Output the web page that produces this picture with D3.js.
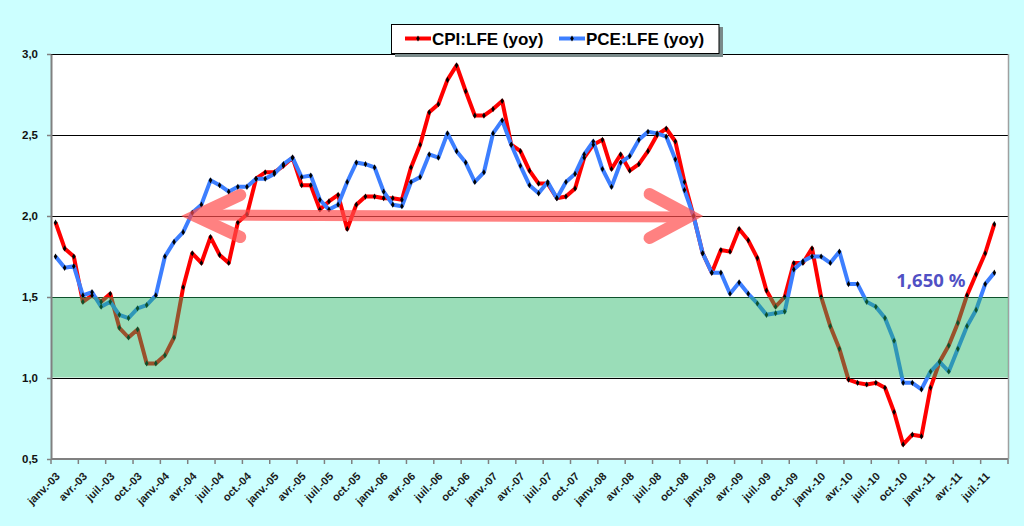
<!DOCTYPE html>
<html>
<head>
<meta charset="utf-8">
<script src="https://cdn.jsdelivr.net/npm/d3@7/dist/d3.min.js"></script>
<style>
  html, body { margin: 0; padding: 0; background: #ccffff; }
  svg { display: block; font-family: "Liberation Sans", Arial, sans-serif; }
</style>
</head>
<body>
<svg id="chart" width="1024" height="526"></svg>
<script>
// month labels (french), one category per month from janv.-03 to sept.-11
const monthNames = ['janv.', 'févr.', 'mars', 'avr.', 'mai', 'juin',
                    'juil.', 'août', 'sept.', 'oct.', 'nov.', 'déc.'];
const years = ['03', '04', '05', '06', '07', '08', '09', '10', '11'];
const categories = [];
years.forEach(yy => monthNames.forEach(m => categories.push(m + '-' + yy)));
categories.splice(105); // axis stops after sept.-11

// core CPI, yoy %
const cpi = [
  1.96, 1.80, 1.75, 1.47, 1.51, 1.47, 1.52, 1.31, 1.25, 1.30, 1.09, 1.09,
  1.14, 1.25, 1.56, 1.77, 1.71, 1.87, 1.76, 1.71, 1.96, 2.01, 2.23, 2.27,
  2.27, 2.31, 2.36, 2.19, 2.19, 2.04, 2.09, 2.13, 1.92, 2.07, 2.12, 2.12,
  2.11, 2.11, 2.10, 2.30, 2.44, 2.64, 2.69, 2.84, 2.93, 2.77, 2.62, 2.62,
  2.66, 2.71, 2.44, 2.40, 2.28, 2.20, 2.20, 2.11, 2.12, 2.17, 2.36, 2.44,
  2.47, 2.29, 2.38, 2.28, 2.32, 2.40, 2.50, 2.54, 2.46, 2.21, 2.00, 1.77,
  1.65, 1.79, 1.78, 1.92, 1.85, 1.74, 1.54, 1.44, 1.50, 1.71, 1.71, 1.80,
  1.50, 1.32, 1.18, 0.99, 0.97, 0.96, 0.97, 0.94, 0.79, 0.59, 0.65, 0.64,
  0.94, 1.10, 1.20, 1.34, 1.51, 1.64, 1.77, 1.95
];

// core PCE, yoy %
const pce = [
  1.75, 1.68, 1.69, 1.51, 1.53, 1.44, 1.47, 1.39, 1.37, 1.43, 1.45, 1.51,
  1.75, 1.84, 1.90, 2.02, 2.07, 2.22, 2.19, 2.15, 2.18, 2.18, 2.23, 2.23,
  2.26, 2.32, 2.36, 2.24, 2.25, 2.10, 2.04, 2.07, 2.21, 2.33, 2.32, 2.30,
  2.15, 2.07, 2.06, 2.21, 2.24, 2.38, 2.36, 2.51, 2.40, 2.33, 2.21, 2.27,
  2.51, 2.59, 2.44, 2.31, 2.19, 2.14, 2.21, 2.11, 2.21, 2.26, 2.38, 2.46,
  2.29, 2.18, 2.33, 2.37, 2.47, 2.52, 2.51, 2.49, 2.35, 2.16, 2.00, 1.77,
  1.65, 1.65, 1.52, 1.59, 1.52, 1.46, 1.39, 1.40, 1.41, 1.67, 1.72, 1.75,
  1.75, 1.71, 1.78, 1.58, 1.58, 1.47, 1.44, 1.37, 1.23, 0.97, 0.97, 0.93,
  1.04, 1.10, 1.04, 1.18, 1.32, 1.42, 1.58, 1.65
];

const yTicks = [0.5, 1.0, 1.5, 2.0, 2.5, 3.0];
const band = [1.0, 1.5];          // shaded target zone
const arrowSpan = [15, 70];       // category indexes joined by the arrow
const arrowLevel = 2.0;

const series = [
  { name: 'CPI:LFE (yoy)', values: cpi, color: '#ff0000' },
  { name: 'PCE:LFE (yoy)', values: pce, color: '#3d7fff' }
];

const frFormat = d3.formatLocale({ decimal: ',', thousands: ' ', grouping: [3], currency: ['', ' €'] });
const fmtTick = frFormat.format('.1f');
const fmtLast = frFormat.format('.3f');

const plot = { left: 51, right: 1008, top: 54, bottom: 459 };

const svg = d3.select('#chart');

const x = d3.scaleBand()
  .domain(categories)
  .range([plot.left, plot.right])
  .padding(0);
const cx = i => x(categories[i]) + x.bandwidth() / 2;

const y = d3.scaleLinear()
  .domain([0.5, 3.0])
  .range([plot.bottom, plot.top]);

// plot area
svg.append('rect')
  .attr('x', plot.left).attr('y', plot.top)
  .attr('width', plot.right - plot.left).attr('height', plot.bottom - plot.top)
  .attr('fill', '#ffffff');

// horizontal grid lines
svg.append('g')
  .selectAll('line')
  .data(yTicks.slice(1))
  .join('line')
  .attr('x1', plot.left).attr('x2', plot.right)
  .attr('y1', d => Math.round(y(d)) + 0.5).attr('y2', d => Math.round(y(d)) + 0.5)
  .attr('stroke', '#000').attr('stroke-width', 1);

// right border of the plot area
svg.append('line')
  .attr('x1', plot.right + 0.5).attr('x2', plot.right + 0.5)
  .attr('y1', plot.top).attr('y2', plot.bottom)
  .attr('stroke', '#a0a0a0').attr('stroke-width', 1.5);

// series lines
const line = d3.line()
  .x((d, i) => cx(i))
  .y(d => y(d));

svg.append('g')
  .selectAll('path')
  .data(series)
  .join('path')
  .attr('d', s => line(s.values))
  .attr('fill', 'none')
  .attr('stroke', s => s.color)
  .attr('stroke-width', 4)
  .attr('stroke-linejoin', 'round');

// little black markers on every point
const diamond = d3.symbol().type(d3.symbolDiamond).size(11);
series.forEach(s => {
  svg.append('g')
    .selectAll('path')
    .data(s.values)
    .join('path')
    .attr('transform', (d, i) => `translate(${cx(i)},${y(d)})`)
    .attr('d', diamond)
    .attr('fill', '#000');
});

// double headed arrow on the 2% level
const ax0 = cx(arrowSpan[0]), ax1 = cx(arrowSpan[1]), ay = y(arrowLevel);
const arrow = svg.append('g').attr('opacity', 0.7);
arrow.append('path')
  .attr('d', `M${ax0 + 8},${ay - 1}L${ax1 - 6},${ay + 1}`)
  .attr('stroke', '#ff4d4d').attr('stroke-width', 11).attr('stroke-linecap', 'round');
arrow.append('path')
  .attr('d', `M${ax0 + 48},${ay - 21}L${ax0 + 3},${ay}L${ax0 + 48},${ay + 21}`)
  .attr('fill', 'none')
  .attr('stroke', '#ff4d4d').attr('stroke-width', 12)
  .attr('stroke-linecap', 'round').attr('stroke-linejoin', 'miter');
arrow.append('path')
  .attr('d', `M${ax1 - 44},${ay - 22}L${ax1 - 3},${ay}L${ax1 - 44},${ay + 22}`)
  .attr('fill', 'none')
  .attr('stroke', '#ff4d4d').attr('stroke-width', 12)
  .attr('stroke-linecap', 'round').attr('stroke-linejoin', 'miter');

// translucent green zone between 1% and 1.5%
svg.append('rect')
  .attr('x', plot.left).attr('y', y(band[1]))
  .attr('width', plot.right - plot.left).attr('height', y(band[0]) - y(band[1]) - 0.5)
  .attr('fill', 'rgb(31,179,98)').attr('fill-opacity', 0.45);

// y axis
const yAxis = svg.append('g')
  .attr('transform', `translate(${plot.left},0)`)
  .call(d3.axisLeft(y).tickValues(yTicks).tickFormat(fmtTick).tickSizeInner(4).tickSizeOuter(0).tickPadding(9));
yAxis.select('.domain').attr('stroke', '#808080').attr('stroke-width', 2);
yAxis.selectAll('.tick line').attr('stroke', '#808080').attr('stroke-width', 1.5);
yAxis.selectAll('.tick text')
  .attr('font-family', '"Liberation Sans", Arial, sans-serif')
  .attr('font-size', 11.5).attr('font-weight', 'bold').attr('fill', '#111');

// x axis: line, ticks every 3 months on category boundaries, labels on category centers
const xAxis = svg.append('g');
xAxis.append('line')
  .attr('x1', plot.left).attr('x2', plot.right)
  .attr('y1', plot.bottom).attr('y2', plot.bottom)
  .attr('stroke', '#808080').attr('stroke-width', 2);
const tickIdx = d3.range(0, categories.length + 1, 3);
xAxis.selectAll('.xt')
  .data(tickIdx)
  .join('line')
  .attr('class', 'xt')
  .attr('x1', i => i < categories.length ? x(categories[i]) : plot.right)
  .attr('x2', i => i < categories.length ? x(categories[i]) : plot.right)
  .attr('y1', plot.bottom).attr('y2', plot.bottom + 5)
  .attr('stroke', '#808080').attr('stroke-width', 1.5);
xAxis.selectAll('.xl')
  .data(tickIdx.filter(i => i < categories.length))
  .join('text')
  .attr('class', 'xl')
  .attr('transform', i => `translate(${cx(i) + 5},${plot.bottom + 18}) rotate(-45)`)
  .attr('text-anchor', 'end')
  .attr('font-size', 11).attr('font-weight', 'bold').attr('fill', '#1a1a1a')
  .text(i => categories[i]);

// legend
const legend = svg.append('g');
legend.append('rect')
  .attr('x', 395).attr('y', 27).attr('width', 328).attr('height', 30)
  .attr('fill', '#7a8a8a');
legend.append('rect')
  .attr('x', 391.5).attr('y', 24.5).attr('width', 327.5).attr('height', 29)
  .attr('fill', '#ffffff').attr('stroke', '#000').attr('stroke-width', 1);
const legendX = [405, 559];
series.forEach((s, k) => {
  const g = legend.append('g').attr('transform', `translate(${legendX[k]},38.5)`);
  g.append('line').attr('x1', 0).attr('x2', 26).attr('stroke', s.color).attr('stroke-width', 4);
  g.append('path').attr('transform', 'translate(13,0)').attr('d', diamond).attr('fill', '#000');
  g.append('text').attr('x', 27).attr('y', 6.5)
    .attr('font-size', 17).attr('font-weight', 'bold').attr('fill', '#000')
    .text(s.name);
});

// last value label
const last = pce.length - 1;
svg.append('text')
  .attr('x', cx(last) - 29).attr('y', y(pce[last]) + 14)
  .attr('text-anchor', 'end')
  .attr('font-family', '"Noto Sans", "Open Sans", sans-serif')
  .attr('font-size', 18.5).attr('font-weight', 'bold').attr('fill', '#5050c4')
  .text(fmtLast(pce[last]) + ' %');
</script>
</body>
</html>
